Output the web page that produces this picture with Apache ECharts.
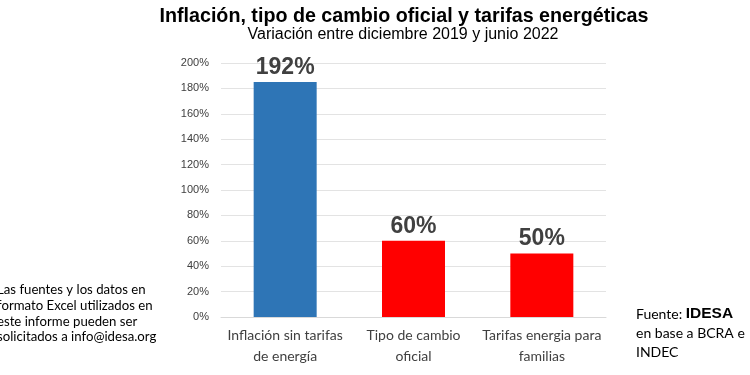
<!DOCTYPE html>
<html>
<head>
<meta charset="utf-8">
<script src="https://cdn.jsdelivr.net/npm/echarts@6/dist/echarts.min.js"></script>
<style>
  html, body { margin: 0; padding: 0; background: #fff; }
  #chart { width: 750px; height: 375px; }
</style>
</head>
<body>
<div id="chart"></div>
<script>
// datos
var categorias = ['Inflación sin tarifas\nde energía', 'Tipo de cambio\noficial', 'Tarifas energia para\nfamilias'];
var valores = [185, 60, 50];
var etiquetas = ['192%', '60%', '50%'];
var colores = ['#2e75b6', '#ff0000', '#ff0000'];
var ticksY = [0, 20, 40, 60, 80, 100, 120, 140, 160, 180, 200];

var notaIzq = ['Las fuentes y los datos en', 'formato Excel utilizados en', 'este informe pueden ser', 'solicitados a info@idesa.org'];

var myChart = echarts.init(document.getElementById('chart'));

var datosBarras = [];
for (var i = 0; i < valores.length; i++) {
	datosBarras.push({
		value: valores[i],
		itemStyle: { color: colores[i] },
		label: { formatter: etiquetas[i] }
	});
}

var option = {
	backgroundColor: '#ffffff',
	animation: false,
	title: [{
		text: 'Inflación, tipo de cambio oficial y tarifas energéticas',
		left: 399, top: 2, textAlign: 'center',
		textStyle: { fontFamily: 'Liberation Sans', fontSize: 19.7, fontWeight: 'bold', color: '#000' }
	}, {
		text: 'Variación entre diciembre 2019 y junio 2022',
		left: 398, top: 22, textAlign: 'center',
		textStyle: { fontFamily: 'Liberation Sans', fontSize: 16, fontWeight: 'normal', color: '#000' }
	}],
	grid: { left: 221, right: 144, top: 63, bottom: 58 },
	xAxis: {
		type: 'category',
		data: categorias,
		axisLine: { show: true, lineStyle: { color: '#d9d9d9' } },
		axisTick: { show: false },
		axisLabel: {
			fontFamily: 'Lato', fontSize: 14, color: '#404040',
			lineHeight: 21, margin: 8, interval: 0
		}
	},
	yAxis: {
		type: 'value',
		min: ticksY[0], max: ticksY[ticksY.length - 1], interval: 20,
		axisLine: { show: false },
		axisTick: { show: false },
		splitLine: { lineStyle: { color: '#e3e3e3', width: 1 } },
		axisLabel: {
			fontFamily: 'Liberation Sans', fontSize: 11, color: '#404040', margin: 12,
			formatter: '{value}%'
		}
	},
	series: [{
		type: 'bar',
		data: datosBarras,
		barWidth: 63,
		label: {
			show: true, position: 'top', distance: 3,
			fontFamily: 'Liberation Sans', fontSize: 23, fontWeight: 'bold', color: '#404040'
		}
	}],
	graphic: [{
		type: 'text', left: -3, top: 282,
		style: {
			text: notaIzq.join('\n'),
			fontFamily: 'Lato', fontSize: 13.2, lineHeight: 15.7, fill: '#000'
		}
	}, {
		type: 'text', left: 636, top: 306,
		style: {
			text: '{a|Fuente: }{b|IDESA}\n{a|en base a BCRA e}\n{a|INDEC}',
			rich: {
				a: { fontFamily: 'Lato', fontSize: 14, lineHeight: 19, fill: '#000' },
				b: { fontFamily: 'Liberation Sans', fontSize: 15.5, fontWeight: 'bold', lineHeight: 19, fill: '#000' }
			}
		}
	}]
};

myChart.setOption(option);
</script>
</body>
</html>
